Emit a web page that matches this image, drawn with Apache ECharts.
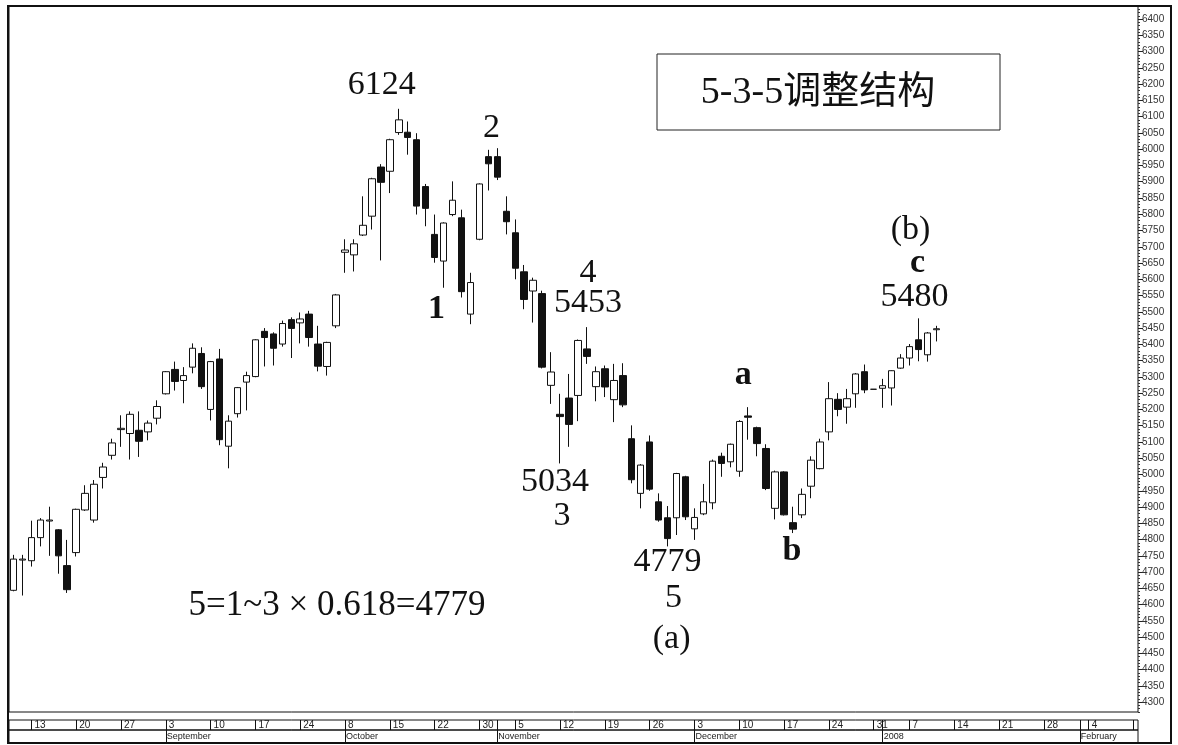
<!DOCTYPE html>
<html><head><meta charset="utf-8">
<script src="https://cdn.jsdelivr.net/npm/echarts@6/dist/echarts.min.js"></script>
<style>html,body{margin:0;padding:0;background:#fff}#c{width:1178px;height:745px}</style>
</head><body><div id="c"></div>
<script>
// ---------- data ----------
const dates = [
'2007-08-09','2007-08-10','2007-08-13','2007-08-14','2007-08-15','2007-08-16','2007-08-17',
'2007-08-20','2007-08-21','2007-08-22','2007-08-23','2007-08-24',
'2007-08-27','2007-08-28','2007-08-29','2007-08-30','2007-08-31',
'2007-09-03','2007-09-04','2007-09-05','2007-09-06','2007-09-07',
'2007-09-10','2007-09-11','2007-09-12','2007-09-13','2007-09-14',
'2007-09-17','2007-09-18','2007-09-19','2007-09-20','2007-09-21',
'2007-09-24','2007-09-25','2007-09-26','2007-09-27','2007-09-28',
'2007-10-08','2007-10-09','2007-10-10','2007-10-11','2007-10-12',
'2007-10-15','2007-10-16','2007-10-17','2007-10-18','2007-10-19',
'2007-10-22','2007-10-23','2007-10-24','2007-10-25','2007-10-26',
'2007-10-30','2007-10-31','2007-11-01','2007-11-02',
'2007-11-05','2007-11-06','2007-11-07','2007-11-08','2007-11-09',
'2007-11-12','2007-11-13','2007-11-14','2007-11-15','2007-11-16',
'2007-11-19','2007-11-20','2007-11-21','2007-11-22','2007-11-23',
'2007-11-26','2007-11-27','2007-11-28','2007-11-29','2007-11-30',
'2007-12-03','2007-12-04','2007-12-05','2007-12-06','2007-12-07',
'2007-12-10','2007-12-11','2007-12-12','2007-12-13','2007-12-14',
'2007-12-17','2007-12-18','2007-12-19','2007-12-20','2007-12-21',
'2007-12-24','2007-12-25','2007-12-26','2007-12-27','2007-12-28',
'2007-12-31','2008-01-02','2008-01-03','2008-01-04',
'2008-01-07','2008-01-08','2008-01-09','2008-01-10','2008-01-11',
'2008-01-14','2008-01-15','2008-01-16','2008-01-17','2008-01-18',
'2008-01-21','2008-01-22','2008-01-23','2008-01-24','2008-01-25',
'2008-01-28','2008-01-29','2008-01-30','2008-01-31','2008-02-01',
'2008-02-04','2008-02-05','2008-02-06','2008-02-07','2008-02-08',
'2008-02-11'
];
const opens = [
4644,4737,4735,4806,4857,4830,4720,4760,4891,4860,4991,5059,5138,5126,5136,5131,5173,
5248,5323,5289,5330,5372,5200,5355,5087,5187,5284,5301,5440,5432,5401,5476,5466,5493,5401,5332,5457,
5683,5675,5736,5794,5945,5932,6051,6052,6029,5885,5738,5656,5799,5789,5493,5723,5977,5977,5809,
5743,5623,5564,5556,5274,5185,5235,5243,5386,5270,5325,5230,5304,5110,4942,5100,4916,4867,4867,4993,
4833,4879,4913,5056,5039,5010,5180,5144,5080,4896,5008,4852,4876,4964,5018,5131,5231,5207,5248,5316,
5262,5265,5266,5327,5358,5414,5368,5445
];
const closes = [
4740,4740,4806,4860,4860,4750,4646,4893,4942,4970,5023,5097,5142,5185,5102,5158,5209,
5316,5286,5304,5388,5270,5347,5107,5164,5267,5304,5414,5421,5388,5464,5449,5478,5421,5333,5406,5552,
5690,5709,5766,5909,5898,6029,6090,6036,5825,5818,5667,5773,5843,5562,5590,5893,5955,5914,5777,
5634,5538,5597,5330,5315,5178,5154,5412,5363,5316,5269,5289,5214,4984,5029,4955,4860,4803,5003,4870,
4868,4916,5041,5034,5093,5163,5176,5095,4957,5008,4876,4832,4939,5044,5100,5233,5200,5233,5309,5260,
5262,5273,5319,5358,5393,5384,5435,5448
];
const lows = [
4641,4628,4717,4779,4750,4695,4636,4748,4888,4852,4957,5046,5085,5046,5054,5105,5154,
5246,5258,5219,5311,5263,5166,5090,5019,5175,5197,5299,5332,5335,5393,5358,5403,5393,5317,5304,5450,
5620,5624,5733,5753,5658,5865,6044,5983,5799,5763,5651,5574,5794,5544,5462,5720,5873,5905,5738,
5600,5508,5467,5326,5217,5034,5085,5164,5340,5225,5238,5161,5207,4973,4896,4950,4855,4779,4814,4860,
4799,4875,4893,4993,5022,4993,5107,5056,4952,4862,4874,4820,4866,4927,5016,5105,5179,5156,5205,5250,
5262,5205,5212,5325,5335,5348,5347,5409
];
const highs = [
4753,4753,4858,4866,4901,4832,4799,4895,4967,4983,5036,5110,5182,5194,5194,5166,5228,
5318,5347,5330,5403,5391,5349,5386,5182,5269,5316,5416,5450,5437,5473,5483,5498,5503,5457,5408,5555,
5723,5723,5855,5912,5954,6032,6124,6085,6049,5893,5799,5775,5901,5814,5620,5895,5998,6003,5855,
5784,5644,5605,5565,5376,5248,5309,5415,5453,5332,5335,5340,5342,5151,5032,5120,4942,4903,5005,4996,
4896,4971,5046,5067,5095,5167,5207,5147,5093,5012,5010,4901,4957,5056,5110,5284,5250,5263,5312,5338,
5262,5294,5320,5370,5401,5480,5438,5457
];
const yTickLabels = [
'4300','4350','4400','4450','4500','4550','4600','4650','4700','4750','4800','4850','4900','4950',
'5000','5050','5100','5150','5200','5250','5300','5350','5400','5450','5500','5550','5600','5650',
'5700','5750','5800','5850','5900','5950','6000','6050','6100','6150','6200','6250','6300','6350','6400'
];
const monthNames = ['January','February','March','April','May','June','July','August','September','October','November','December'];
const titleText = '5-3-5调整结构';
const noteText = '5=1~3 × 0.618=4779';

// ---------- helpers ----------
const N = dates.length;
const dow = d => new Date(d + 'T00:00:00Z').getUTCDay();
const mon = d => +d.slice(5, 7);
const isWeekStart = i => i > 0 && dow(dates[i]) < dow(dates[i - 1]);
const isMonthStart = i => i > 0 && mon(dates[i]) !== mon(dates[i - 1]);
const candles = opens.map((o, i) => [o, closes[i], lows[i], highs[i]]);

const SERIF = '"Liberation Serif","Times New Roman",serif';
const SANS = '"Liberation Sans",Arial,sans-serif';

// wave labels: [text, candle index, value, x offset, bold]
const waveMarks = [
  ['6124', 41, 6197, 1, false],
  ['2', 53, 6066, 3, false],
  ['1', 47, 5509, 2, true],
  ['4', 64, 5620, 1, false],
  ['5453', 64, 5527, 1, false],
  ['5034', 60, 4976, 4, false],
  ['3', 61, 4872, 2, false],
  ['4779', 73, 4730, 0, false],
  ['5', 73, 4620, 6, false],
  ['(a)', 73, 4494, 4, false],
  ['a', 82, 5306, -5, true],
  ['b', 87, 4763, -1, true],
  ['(b)', 100, 5751, 1, false],
  ['c', 101, 5650, -1, true],
  ['5480', 101, 5546, -4, false]
];

const L = 9, W = 1129;
const chart = echarts.init(document.getElementById('c'), null, {renderer: 'canvas'});
chart.setOption({
  animation: false,
  backgroundColor: '#fff',
  grid: [
    {left: L, top: 6, width: W, height: 706, show: true, borderColor: '#111', borderWidth: 1, backgroundColor: 'transparent', outerBoundsMode: 'none'},
    {left: L, top: 720, width: W, height: 10, show: true, borderColor: '#111', borderWidth: 1, outerBoundsMode: 'none'},
    {left: L, top: 730, width: W, height: 13, show: true, borderColor: '#111', borderWidth: 1, outerBoundsMode: 'none'},
    {left: L, top: 19.01, width: W, height: 683.23, show: false, outerBoundsMode: 'none'}
  ],
  xAxis: [
    {gridIndex: 0, type: 'category', data: dates, boundaryGap: true,
     axisLine: {show: false, onZero: false}, axisTick: {show: false}, axisLabel: {show: false}, splitLine: {show: false}},
    {gridIndex: 1, type: 'category', data: dates, boundaryGap: true, position: 'top',
     axisLine: {show: false, onZero: false},
     axisTick: {show: true, inside: true, length: 10, alignWithLabel: true,
       interval: i => isWeekStart(i) || isMonthStart(i), lineStyle: {color: '#111', width: 1}},
     axisLabel: {show: true, inside: true, margin: 0, align: 'left', padding: [0, 0, 0, 3],
       interval: i => isWeekStart(i) && i < N - 1,
       formatter: v => String(+v.slice(8, 10)),
       fontSize: 10, lineHeight: 11, color: '#222', fontFamily: SANS}},
    {gridIndex: 2, type: 'category', data: dates, boundaryGap: true, position: 'top',
     axisLine: {show: false, onZero: false},
     axisTick: {show: true, inside: true, length: 13, alignWithLabel: true,
       interval: i => isMonthStart(i), lineStyle: {color: '#111', width: 1}},
     axisLabel: {show: true, inside: true, margin: 2, align: 'left', padding: [0, 0, 0, 1],
       interval: i => isMonthStart(i),
       formatter: v => mon(v) === 1 ? v.slice(0, 4) : monthNames[mon(v) - 1],
       fontSize: 9, color: '#222', fontFamily: SANS}},
    {gridIndex: 3, type: 'value', show: false}
  ],
  yAxis: [
    {gridIndex: 0, type: 'value', min: 4270, max: 6440, interval: 10, position: 'right',
     axisLine: {show: false, onZero: false}, axisTick: {show: true, length: 2, lineStyle: {color: '#333'}},
     axisLabel: {show: false}, splitLine: {show: false}},
    {gridIndex: 1, type: 'value', show: false},
    {gridIndex: 2, type: 'value', show: false},
    {gridIndex: 3, type: 'category', data: yTickLabels, boundaryGap: false, position: 'right',
     axisLine: {show: false, onZero: false}, axisTick: {show: true, length: 5, lineStyle: {color: '#222'}},
     axisLabel: {interval: 0, margin: 4, fontSize: 10, color: '#333', fontFamily: SANS},
     splitLine: {show: false}}
  ],
  series: [{
    type: 'candlestick', xAxisIndex: 0, yAxisIndex: 0, data: candles, barWidth: 7,
    itemStyle: {color: '#fff', color0: '#111', borderColor: '#111', borderColor0: '#111',
      borderColorDoji: '#111', borderWidth: 1},
    markPoint: {
      symbol: 'circle', symbolSize: 1, itemStyle: {color: 'rgba(0,0,0,0)'},
      data: waveMarks.map(m => ({
        coord: [dates[m[1]], m[2]],
        label: {show: true, position: 'inside', formatter: m[0], offset: [m[3], 0],
          fontFamily: SERIF, fontSize: 34, fontWeight: m[4] ? 'bold' : 'normal', color: '#111'}
      }))
    }
  }],
  graphic: [
    {type: 'rect', silent: true, z: 100, shape: {x: 8, y: 6, width: 1163, height: 737},
     style: {fill: null, stroke: '#111', lineWidth: 2}},
    {type: 'rect', silent: true, z: 50, shape: {x: 657, y: 54, width: 343, height: 76},
     style: {fill: '#fff', stroke: '#222', lineWidth: 1}},
    {type: 'text', silent: true, z: 51, x: 818, y: 93,
     style: {text: titleText, font: '38px "Liberation Serif","Noto Sans CJK SC"', fill: '#111',
       textAlign: 'center', textVerticalAlign: 'middle', align: 'center', verticalAlign: 'middle'}},
    {type: 'text', silent: true, z: 51, x: 337, y: 606,
     style: {text: noteText, font: '35px "Liberation Serif","Times New Roman",serif', fill: '#111',
       textAlign: 'center', textVerticalAlign: 'middle', align: 'center', verticalAlign: 'middle'}}
  ]
});
</script>
</body></html>
